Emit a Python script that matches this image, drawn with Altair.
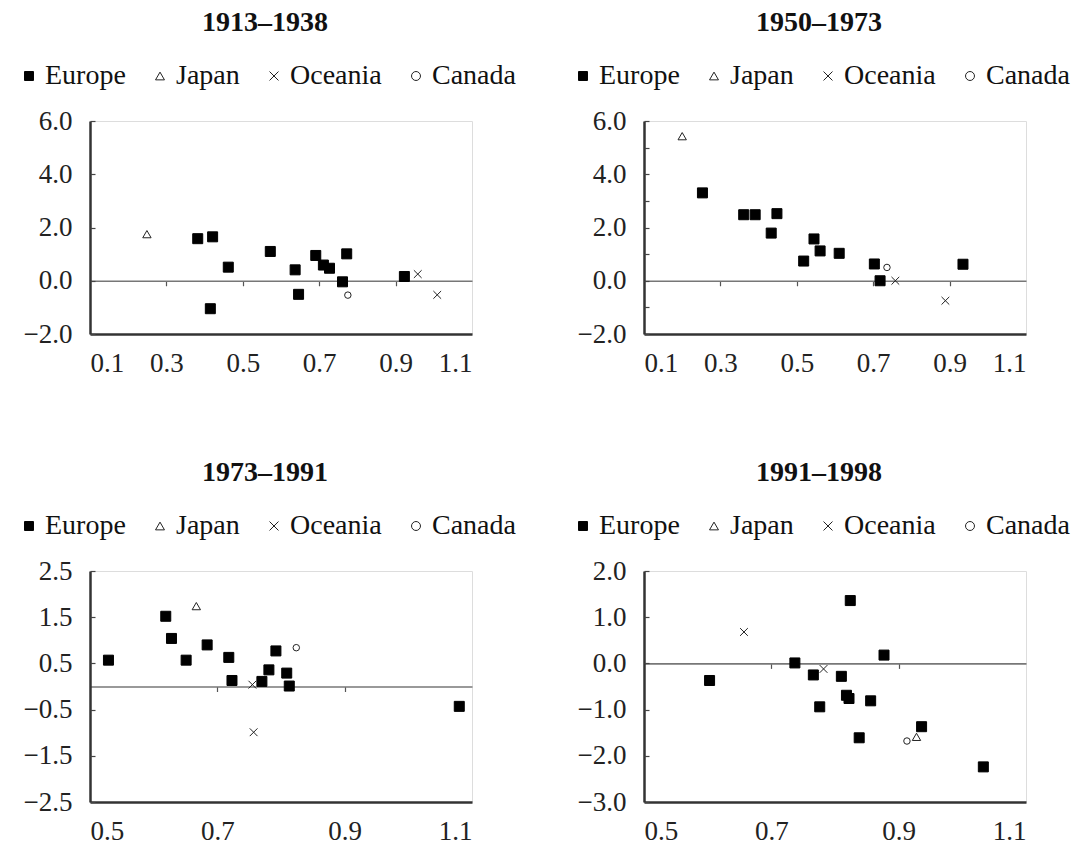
import altair as alt
import pandas as pd

SERIES = ["Europe", "Japan", "Oceania", "Canada"]
PERIODS = ["1913–1938", "1950–1973", "1973–1991", "1991–1998"]

# ---- 1913–1938
p1_eu_x = [0.382, 0.421, 0.462, 0.572, 0.637, 0.646, 0.691, 0.711, 0.727, 0.761, 0.772, 0.923, 0.415]
p1_eu_y = [1.58, 1.65, 0.51, 1.10, 0.41, -0.51, 0.95, 0.59, 0.47, -0.04, 1.01, 0.16, -1.05]
p1_jp_x = [0.249]
p1_jp_y = [1.75]
p1_oc_x = [0.958, 1.009]
p1_oc_y = [0.25, -0.53]
p1_ca_x = [0.775]
p1_ca_y = [-0.54]

# ---- 1950–1973
p2_eu_x = [0.253, 0.361, 0.391, 0.448, 0.433, 0.545, 0.561, 0.611, 0.518, 0.703, 0.718, 0.935]
p2_eu_y = [3.30, 2.48, 2.48, 2.52, 1.79, 1.57, 1.12, 1.03, 0.74, 0.63, 0.00, 0.62]
p2_jp_x = [0.200]
p2_jp_y = [5.43]
p2_oc_x = [0.758, 0.889]
p2_oc_y = [0.0, -0.75]
p2_ca_x = [0.736]
p2_ca_y = [0.50]

# ---- 1973–1991
p3_eu_x = [0.529, 0.619, 0.628, 0.651, 0.684, 0.718, 0.723, 0.770, 0.781, 0.792, 0.809, 0.813, 1.080]
p3_eu_y = [0.57, 1.52, 1.04, 0.57, 0.90, 0.63, 0.13, 0.11, 0.36, 0.77, 0.29, 0.01, -0.43]
p3_jp_x = [0.667]
p3_jp_y = [1.74]
p3_oc_x = [0.755, 0.757]
p3_oc_y = [0.04, -0.99]
p3_ca_x = [0.824]
p3_ca_y = [0.84]

# ---- 1991–1998
p4_eu_x = [0.603, 0.737, 0.766, 0.776, 0.810, 0.818, 0.822, 0.824, 0.838, 0.856, 0.877, 0.936, 1.033]
p4_eu_y = [-0.37, 0.01, -0.25, -0.94, -0.28, -0.69, -0.76, 1.36, -1.61, -0.81, 0.18, -1.37, -2.24]
p4_jp_x = [0.928]
p4_jp_y = [-1.59]
p4_oc_x = [0.657, 0.782]
p4_oc_y = [0.68, -0.12]
p4_ca_x = [0.913]
p4_ca_y = [-1.68]

X_DOMAINS = [[0.1, 1.1], [0.1, 1.1], [0.5, 1.1], [0.5, 1.1]]
X_TICKS = [[0.1, 0.3, 0.5, 0.7, 0.9, 1.1], [0.1, 0.3, 0.5, 0.7, 0.9, 1.1],
           [0.5, 0.7, 0.9, 1.1], [0.5, 0.7, 0.9, 1.1]]
X_INNER_TICKS = [[0.3, 0.5, 0.7, 0.9], [0.3, 0.5, 0.7, 0.9], [0.7, 0.9], [0.7, 0.9]]
Y_DOMAINS = [[-2, 6], [-2, 6], [-2.5, 2.5], [-3, 2]]
Y_TICKS = [[-2, 0, 2, 4, 6], [-2, -1, 0, 1, 2, 3, 4, 5, 6],
           [-2.5, -1.5, -0.5, 0.5, 1.5, 2.5], [-3, -2, -1, 0, 1, 2]]

W = 382
HEIGHTS = [213, 213, 231, 231]
MARKER_SIZES = {"Europe": 100, "Japan": 70, "Oceania": 60, "Canada": 42}

FONT = "Liberation Serif"
CROSS = "M-1,-1L1,1M-1,1L1,-1"
TITLE_LEAD = "\u00a0" * 6  # nudges the centred panel title over the plot area


def frame(i):
    g = globals()
    p = f"p{i + 1}"
    rows = []
    for key, name in zip(["eu", "jp", "oc", "ca"], SERIES):
        for x, y in zip(g[f"{p}_{key}_x"], g[f"{p}_{key}_y"]):
            rows.append({"x": x, "y": y, "series": name})
    return pd.DataFrame(rows)


def panel(i):
    df = frame(i)
    H = HEIGHTS[i]
    ymin, ymax = Y_DOMAINS[i]
    zero_off = -(0 - ymin) / (ymax - ymin) * H

    xs = alt.Scale(domain=X_DOMAINS[i], nice=False, zero=False)
    ys = alt.Scale(domain=Y_DOMAINS[i], nice=False, zero=False)

    legend = alt.Legend(
        title=TITLE_LEAD + PERIODS[i], titleOrient="top", titleAnchor="middle", titleFont=FONT,
        titleFontSize=28, titleFontWeight="bold", titleColor="#111", titlePadding=25,
        titleLimit=600,
        orient="none", direction="horizontal",
        legendX=-75, legendY=-112,
        labelFont=FONT, labelFontSize=28, labelColor="#111", labelLimit=300,
        symbolSize=80, symbolStrokeWidth=1,
        labelOffset=2, columnPadding=20,
    )
    shape = alt.Shape("series:N", legend=legend,
                      scale=alt.Scale(domain=SERIES,
                                      range=["square", "triangle-up", CROSS, "circle"]))
    fill = alt.Fill("series:N", legend=legend,
                    scale=alt.Scale(domain=SERIES,
                                    range=["black", "white", "white", "white"]))
    stroke = alt.Stroke("series:N", legend=legend,
                        scale=alt.Scale(domain=SERIES,
                                        range=["black", "#222", "#222", "#222"]))

    xaxis = alt.Axis(
        orient="bottom", values=X_TICKS[i], format=".1f", title=None, grid=False,
        ticks=False, labelPadding=16, labelFont=FONT, labelFontSize=27, labelColor="#222",
        domainColor="#333", domainWidth=2.5)
    yaxis = alt.Axis(
        orient="left", values=Y_TICKS[i], format=".1f", title=None, grid=False,
        ticks=False, labelPadding=18, labelFont=FONT, labelFontSize=27, labelColor="#222",
        domainColor="#333", domainWidth=2.5)

    layers = []
    for k, name in enumerate(SERIES):
        layers.append(
            alt.Chart(df).transform_filter(alt.datum.series == name).mark_point(
                strokeWidth=1, opacity=1, filled=False,
                size=MARKER_SIZES[name]).encode(
                x=alt.X("x:Q", scale=xs, axis=xaxis if k == 0 else None),
                y=alt.Y("y:Q", scale=ys, axis=yaxis if k == 0 else None),
                shape=shape, fill=fill, stroke=stroke,
            )
        )

    helper = alt.Chart(df).mark_point(opacity=0).encode(
        x=alt.X("x:Q", scale=xs, axis=alt.Axis(
            orient="bottom", offset=zero_off, values=X_INNER_TICKS[i], labels=False,
            title=None, grid=False, ticks=True, tickSize=5, tickColor="#555", tickWidth=1.2,
            domainColor="#777", domainWidth=1.6)),
        y=alt.Y("y:Q", scale=ys, axis=alt.Axis(
            orient="right", offset=-W, values=Y_TICKS[i], labels=False, title=None,
            grid=False, domain=False, ticks=True, tickSize=5, tickColor="#444", tickWidth=1.2)),
    )

    return alt.layer(*layers, helper).resolve_axis(x="independent", y="independent").properties(
        width=W, height=H,
    )


chart = alt.concat(*[panel(i) for i in range(4)], columns=2,
                   spacing=alt.RowColnumber(column=172, row=237), bounds="flush").resolve_scale(
    shape="independent", fill="independent", stroke="independent"
).resolve_legend(shape="independent", fill="independent", stroke="independent").configure_view(
    stroke=None).configure(
    padding={"left": 6, "top": 0, "right": 0, "bottom": -3}
)

chart.save("out.html", embed_options={"renderer": "svg", "actions": False})
